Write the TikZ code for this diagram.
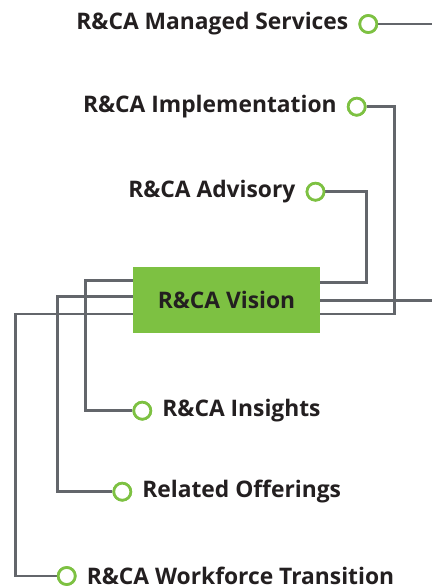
\documentclass[tikz,border=0pt]{standalone}
\usepackage{fontspec}
\setmainfont{Open Sans}
\definecolor{rgreen}{HTML}{7DC142}
\definecolor{rgrey}{HTML}{63666B}
\definecolor{rtext}{HTML}{231F20}
\begin{document}
\begin{tikzpicture}[x=1pt,y=-1pt,
  conn/.style={draw=rgrey,line width=2.8pt},
  dot/.style={circle,draw=rgreen,fill=white,line width=2.7pt,minimum size=17pt,inner sep=0pt},
  lbl/.style={font=\bfseries\fontsize{22.8}{26}\selectfont,text=rtext,inner sep=0pt},
  box/.style={fill=rgreen,minimum width=187pt,minimum height=65.5pt,inner sep=0pt,font=\bfseries\fontsize{22.8}{26}\selectfont,text=rtext}]
\useasboundingbox[fill=white] (0,0) rectangle (432,588);
\node[box] (vision) at (226.5,300) {R\&CA Vision};
% circles
\node[dot] (cms) at (368.3,24) {};
\node[dot] (cim) at (356.7,106.7) {};
\node[dot] (cad) at (315.5,191.7) {};
\node[dot] (cin) at (142.3,410.7) {};
\node[dot] (cro) at (122.3,491.7) {};
\node[dot] (cwf) at (66.7,576) {};
% labels
\node[lbl,anchor=east] (lms) at ([xshift=-10pt]cms.west) {R\&CA Managed Services};
\node[lbl,anchor=east] (lim) at ([xshift=-10pt]cim.west) {R\&CA Implementation};
\node[lbl,anchor=east] (lad) at ([xshift=-10pt]cad.west) {R\&CA Advisory};
\node[lbl,anchor=west] (lin) at ([xshift=10pt]cin.east) {R\&CA Insights};
\node[lbl,anchor=west] (lro) at ([xshift=10pt]cro.east) {Related Offerings};
\node[lbl,anchor=west] (lwf) at ([xshift=10pt]cwf.east) {R\&CA Workforce Transition};
% free ends and corners
\coordinate (ems) at (432,24);
\coordinate (emid) at (432,300.7);
\coordinate (kad) at (366.7,191.7);
\coordinate (kim) at (394.3,106.7);
\coordinate (kin) at (85.7,410.7);
\coordinate (kro) at (57.7,491.7);
\coordinate (kwf) at (15.7,576);
% connectors
\draw[conn] (cms) -- (ems);
\draw[conn] ([yshift=17.7pt]vision.east) -| (kad) -- (cad);
\draw[conn] ([yshift=-0.7pt]vision.east) -- (emid);
\draw[conn] ([yshift=-14pt]vision.east) -| (kim) -- (cim);
\draw[conn] ([yshift=19.3pt]vision.west) -| (kin) -- (cin);
\draw[conn] ([yshift=3.3pt]vision.west) -| (kro) -- (cro);
\draw[conn] ([yshift=-14pt]vision.west) -| (kwf) -- (cwf);
% circles on top
\node[dot] at (cms) {};
\node[dot] at (cim) {};
\node[dot] at (cad) {};
\node[dot] at (cin) {};
\node[dot] at (cro) {};
\node[dot] at (cwf) {};
\end{tikzpicture}
\end{document}
